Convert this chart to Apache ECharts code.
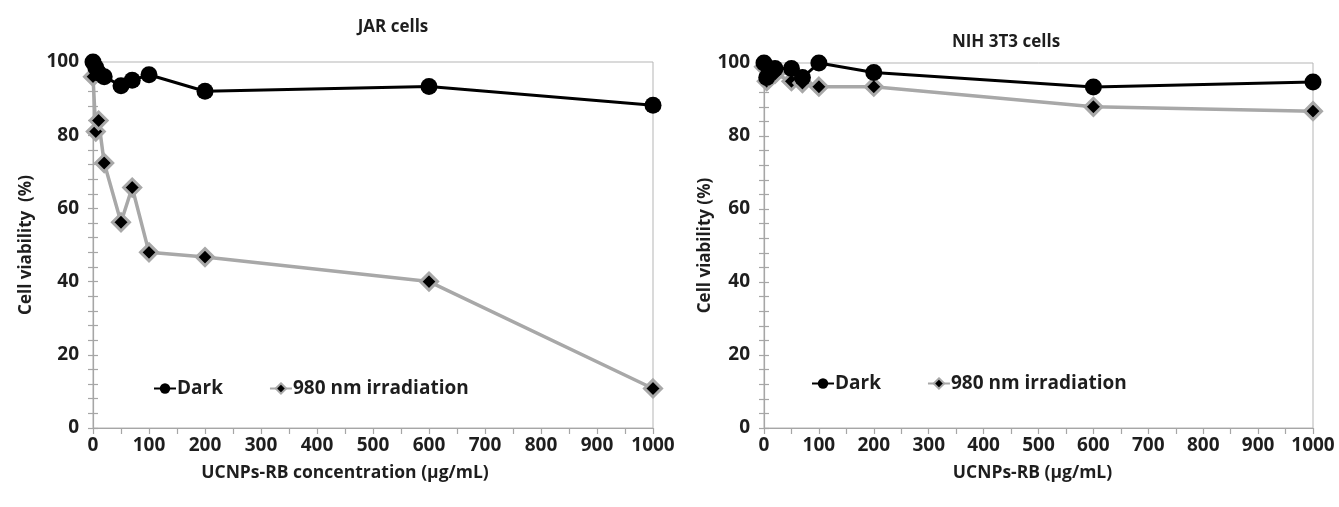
<!DOCTYPE html>
<html>
<head>
<meta charset="utf-8">
<script src="https://cdn.jsdelivr.net/npm/echarts@6/dist/echarts.min.js"></script>
<style>
  html, body { margin: 0; padding: 0; background: #fff; }
  #chart { width: 1339px; height: 507px; }
</style>
</head>
<body>
<div id="chart"></div>
<script>
// UCNPs-RB concentration (µg/mL)
const concentrations = [0, 5, 10, 20, 50, 70, 100, 200, 600, 1000];

// JAR cells, viability (%)
const jarDark = [100, 98.5, 97, 96, 93.5, 95, 96.5, 92, 93.3, 88.2];
const jarIrradiated = [96, 81, 84, 72.4, 56.2, 65.7, 48, 46.7, 40, 10.8];

// NIH 3T3 cells, viability (%)
const nihDark = [100, 96, 98, 98.5, 98.5, 96, 100, 97.4, 93.4, 94.8];
const nihIrradiated = [99, 95, 96, 97, 95, 94.5, 93.5, 93.5, 88, 86.8];

const panelTitles = ['JAR cells', 'NIH 3T3 cells'];
const xTitles = ['UCNPs-RB concentration (\u00b5g/mL)', 'UCNPs-RB (\u00b5g/mL)'];
const yTitles = ['Cell viability  (%)', 'Cell viability (%)'];
const seriesNames = ['Dark', '980 nm irradiation'];

const FONT = '"Open Sans", "Liberation Sans", sans-serif';
const AXIS_GRAY = '#a6a6a6';
const LINE_GRAY = '#a8a8a8';
const TEXT = '#1e1e1e';

const pair = (xs, ys) => xs.map((x, i) => [x, ys[i]]);

const grids = [
  { left: 93, right: 686, top: 62, bottom: 79 },
  { left: 764, right: 26, top: 63, bottom: 79 }
];
const yNameGaps = [58, 50];
// horizontal nudge of each x-axis title (right padding shifts it left)
const xNamePadding = [[0, 56, 0, 0], [0, 12, 0, 0]];

const xAxes = [];
const yAxes = [];
grids.forEach((g, i) => {
  xAxes.push({
    type: 'value', gridIndex: i, min: 0, max: 1000, interval: 50,
    name: xTitles[i], nameLocation: 'middle', nameGap: 36,
    nameTextStyle: { fontFamily: FONT, fontSize: 17.5, fontWeight: 'bold', color: TEXT, padding: xNamePadding[i] },
    axisLine: { show: true, lineStyle: { color: AXIS_GRAY, width: 1.2 } },
    axisTick: { show: true, length: 6, lineStyle: { color: AXIS_GRAY, width: 1.2 } },
    axisLabel: {
      fontFamily: FONT, fontSize: 19, fontWeight: 'bold', color: TEXT, margin: 8,
      showMinLabel: true, showMaxLabel: true,
      formatter: v => (v % 100 === 0 ? String(v) : '')
    },
    splitLine: { show: false }
  });
  // labelled axis with outward ticks
  yAxes.push({
    type: 'value', gridIndex: i, min: 0, max: 100, interval: 4,
    name: yTitles[i], nameLocation: 'middle', nameGap: yNameGaps[i], nameRotate: 90,
    nameTextStyle: { fontFamily: FONT, fontSize: 17, fontWeight: 'bold', color: TEXT },
    axisLine: { show: true, lineStyle: { color: AXIS_GRAY, width: 1.2 } },
    axisTick: { show: true, length: 5, lineStyle: { color: AXIS_GRAY, width: 1.2 } },
    axisLabel: {
      fontFamily: FONT, fontSize: 19, fontWeight: 'bold', color: TEXT, margin: 14,
      formatter: v => (v % 20 === 0 ? String(v) : '')
    },
    splitLine: { show: false }
  });
  // companion axis giving the inward half of each tick
  yAxes.push({
    type: 'value', gridIndex: i, min: 0, max: 100, interval: 4, position: 'left',
    axisLine: { show: false },
    axisTick: { show: true, inside: true, length: 5, lineStyle: { color: AXIS_GRAY, width: 1.2 } },
    axisLabel: { show: false },
    splitLine: { show: false }
  });
});

function darkSeries(i, data) {
  return {
    name: seriesNames[0], type: 'line', xAxisIndex: i, yAxisIndex: i * 2,
    data: data, symbol: 'circle', symbolSize: 17, z: 4,
    lineStyle: { color: '#000', width: 3 },
    itemStyle: { color: '#000', borderColor: '#000', borderWidth: 0 }
  };
}
function irradiatedSeries(i, data) {
  return {
    name: seriesNames[1], type: 'line', xAxisIndex: i, yAxisIndex: i * 2,
    data: data, symbol: 'diamond', symbolSize: 17, z: 3,
    lineStyle: { color: LINE_GRAY, width: 3.5 },
    itemStyle: { color: '#000', borderColor: LINE_GRAY, borderWidth: 3 }
  };
}

const legendCommon = {
  orient: 'horizontal', itemGap: 46, itemWidth: 22, itemHeight: 13,
  textStyle: { fontFamily: FONT, fontSize: 19, fontWeight: 'bold', color: TEXT, padding: [0, 0, 0, -4] },
  data: seriesNames
};

const option = {
  backgroundColor: '#fff',
  animation: false,
  title: [
    { text: panelTitles[0], left: 388, top: 14, textAlign: 'center',
      textStyle: { fontFamily: FONT, fontSize: 17, fontWeight: 'bold', color: TEXT } },
    { text: panelTitles[1], left: 1001, top: 29, textAlign: 'center',
      textStyle: { fontFamily: FONT, fontSize: 17, fontWeight: 'bold', color: TEXT } }
  ],
  legend: [
    Object.assign({}, legendCommon, { left: 148, top: 374 }),
    Object.assign({}, legendCommon, { left: 806, top: 369 })
  ],
  grid: grids.map(g => Object.assign({ show: true, borderColor: '#b5b5b5', borderWidth: 1, backgroundColor: 'transparent' }, g)),
  xAxis: xAxes,
  yAxis: yAxes,
  series: [
    irradiatedSeries(0, pair(concentrations, jarIrradiated)),
    darkSeries(0, pair(concentrations, jarDark)),
    irradiatedSeries(1, pair(concentrations, nihIrradiated)),
    darkSeries(1, pair(concentrations, nihDark))
  ]
};

const chart = echarts.init(document.getElementById('chart'), null, { renderer: 'canvas' });
chart.setOption(option);
</script>
</body>
</html>
